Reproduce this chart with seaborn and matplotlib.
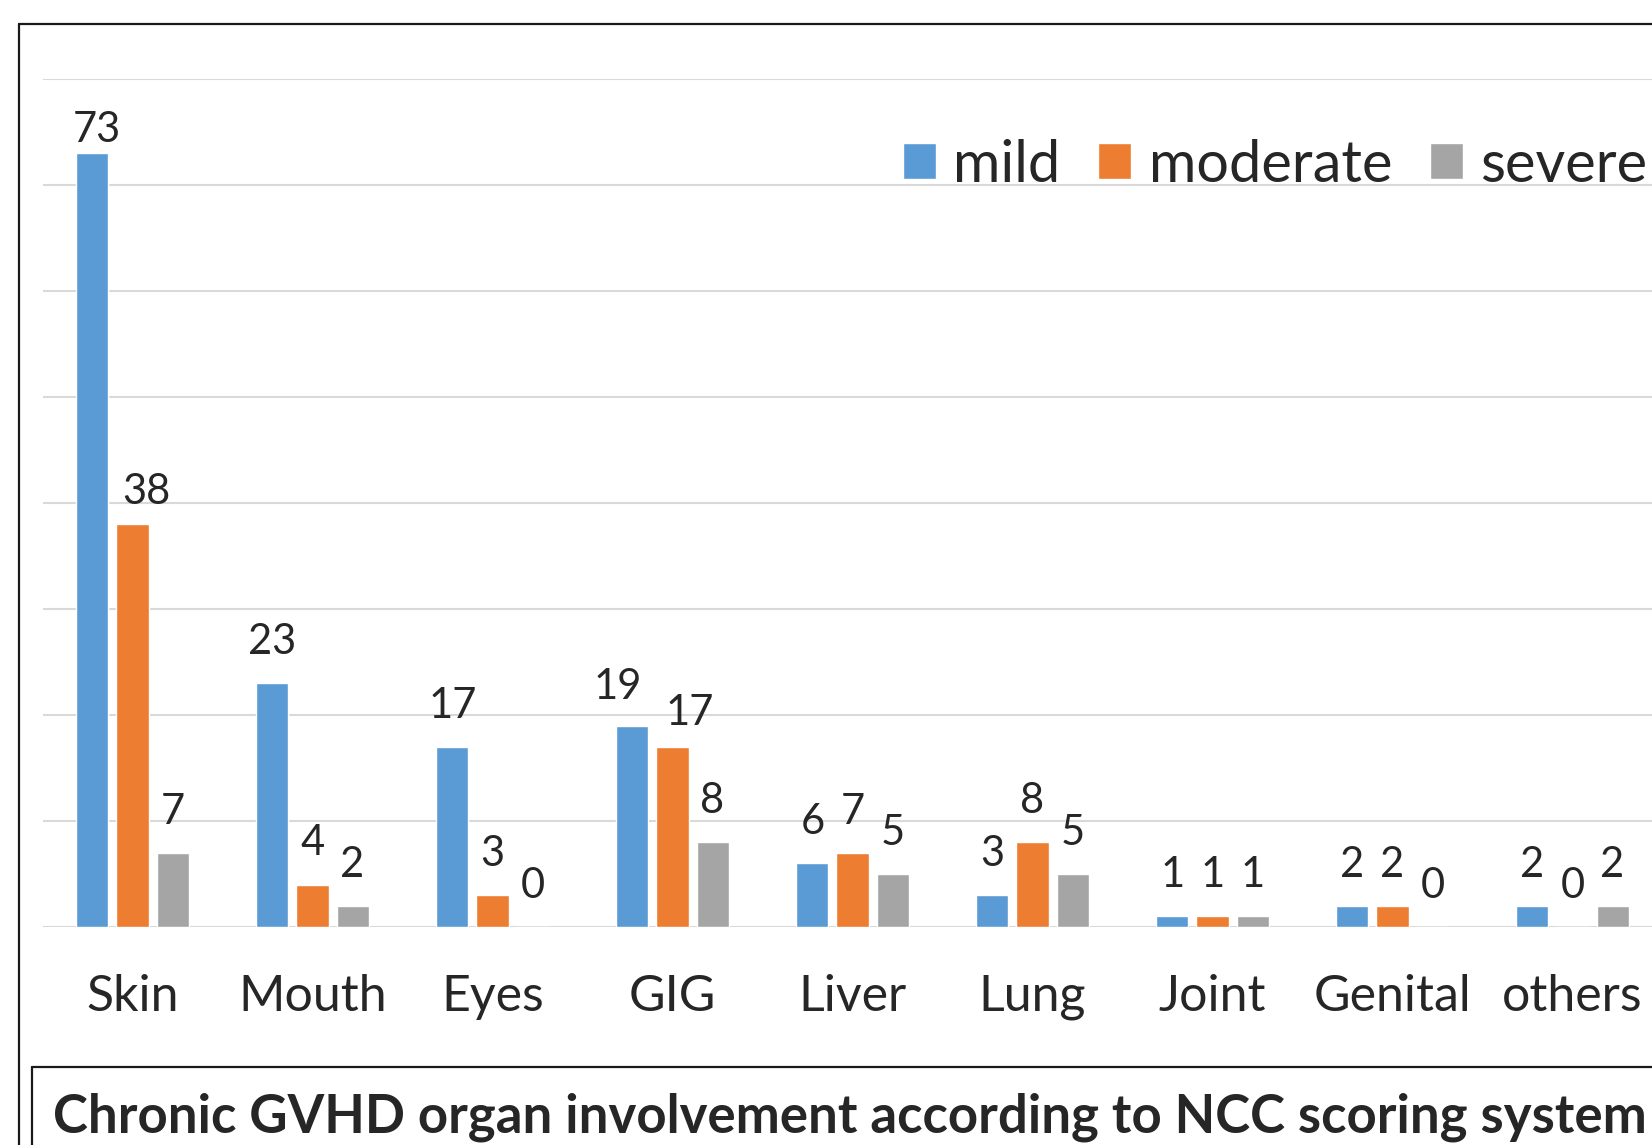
import matplotlib
matplotlib.use("Agg")
import matplotlib.pyplot as plt
from matplotlib.lines import Line2D
import pandas as pd
import seaborn as sns

organs = ["Skin", "Mouth", "Eyes", "GIG", "Liver", "Lung", "Joint", "Genital", "others"]
mild = [73, 23, 17, 19, 6, 3, 1, 2, 2]
moderate = [38, 4, 3, 17, 7, 8, 1, 2, 0]
severe = [7, 2, 0, 8, 5, 5, 1, 0, 2]
levels = ["mild", "moderate", "severe"]
colors = ["#5B9BD5", "#ED7D31", "#A5A5A5"]
title = "Chronic GVHD organ involvement according to NCC scoring system"

# Excel nudged a few crowded labels (pixels, dx, dy)
nudges = {(0, 0): (4, -18), (0, 1): (14, -9), (3, 0): (-15, -3), (3, 1): (17, -7)}

rows = []
for lvl, vals in zip(levels, [mild, moderate, severe]):
    for organ, v in zip(organs, vals):
        rows.append({"organ": organ, "level": lvl, "count": v})
df = pd.DataFrame(rows)

sns.set_style("white")
plt.rcParams["font.family"] = ["Lato", "DejaVu Sans"]

W, H = 1652, 1145
fig = plt.figure(figsize=(W / 100, H / 100), dpi=100)

def fx(x):
    return x / W

def fy(y):
    return 1 - y / H

# axes: left edge 42px, baseline at 927px, 80 at 79px, 9 categories of 180px
ax = fig.add_axes([fx(42.5), fy(927), 1620 / W, (927 - 79) / H])

sns.barplot(data=df, x="organ", y="count", hue="level", order=organs,
            hue_order=levels, palette=colors, width=0.667, gap=0.2,
            saturation=1, ax=ax, legend=True)

ax.set_xlim(-0.5, 8.5)
ax.set_ylim(0, 80)
ax.set_yticks(range(0, 81, 10))
ax.set_yticklabels([])
ax.grid(axis="y", color="#D9D9D9", linewidth=1.5, zorder=0)
ax.set_axisbelow(True)
for s in ax.spines.values():
    s.set_visible(False)
ax.tick_params(axis="both", length=0)
ax.tick_params(axis="x", labelsize=36, pad=34)
ax.set_xlabel("")
ax.set_ylabel("")

for j, cont in enumerate(ax.containers):
    texts = ax.bar_label(cont, fmt="%d", fontsize=30, padding=16)
    for i, t in enumerate(texts):
        if (i, j) in nudges:
            dx, dy = nudges[(i, j)]
            x0, y0 = t.xyann
            t.xyann = (x0 + dx * 0.72, y0 + dy * 0.72)

handles, labels = ax.get_legend_handles_labels()
ax.legend(handles, labels, ncol=3, frameon=False, fontsize=41.5,
          handlelength=0.57, handleheight=0.57, handletextpad=0.30,
          columnspacing=0.66, borderpad=0, borderaxespad=0,
          loc="center left", bbox_to_anchor=(fx(903), fy(165)),
          bbox_transform=fig.transFigure)

# outer frame (cropped at right and bottom)
lc = "#1a1a1a"
fig.add_artist(Line2D([fx(19), fx(19)], [fy(24), 0], color=lc, lw=1.6))
fig.add_artist(Line2D([fx(19), 1], [fy(24), fy(24)], color=lc, lw=1.6))
# title box
fig.add_artist(Line2D([fx(32), fx(32)], [fy(1067), 0], color=lc, lw=1.6))
fig.add_artist(Line2D([fx(32), 1], [fy(1067), fy(1067)], color=lc, lw=1.6))

fig.text(fx(53), fy(1133), title, fontsize=38, fontweight="bold",
         ha="left", va="baseline")

fig.savefig("out.png", dpi=100)
